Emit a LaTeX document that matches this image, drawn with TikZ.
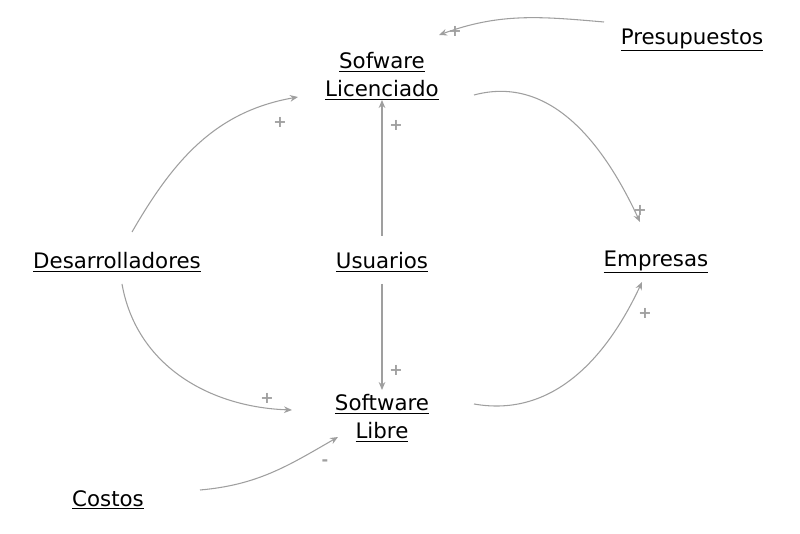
\documentclass[tikz,border=0pt]{standalone}
\usepackage{fontspec}
\setmainfont{DejaVu Sans}
\usetikzlibrary{arrows.meta}
\begin{document}
\begin{tikzpicture}[x=0.75pt,y=-0.75pt,
  lbl/.style={font=\fontsize{16}{21}\selectfont, align=center, inner sep=2pt},
  lnk/.style={draw=gray!75, line width=0.8pt, -{Stealth[length=6pt,width=5pt]}},
  sgn/.style={text=gray!75, font=\bfseries\fontsize{12}{12}\selectfont, inner sep=0pt}]
\useasboundingbox (0,0) rectangle (800,534);
\node[lbl] (lic) at (382,76) {\underline{Sofware}\\\underline{Licenciado}};
\node[lbl] (pre) at (692,40) {\underline{Presupuestos}};
\node[lbl] (des) at (117,262) {\underline{Desarrolladores}};
\node[lbl] (usu) at (382,262) {\underline{Usuarios}};
\node[lbl] (emp) at (656,262) {\underline{Empresas}};
\node[lbl] (lib) at (382,418) {\underline{Software}\\\underline{Libre}};
\node[lbl] (cos) at (108,500) {\underline{Costos}};
\coordinate (a1) at (604,22); \coordinate (b1) at (439,35);
\draw[lnk] (a1) to[out=175,in=20] (b1);
\coordinate (a2) at (132,232); \coordinate (b2) at (298,97);
\draw[lnk] (a2) to[out=60,in=190] (b2);
\coordinate (a3) at (382,236); \coordinate (b3) at (382,100);
\draw[lnk] (a3) -- (b3);
\coordinate (a4) at (474,95); \coordinate (b4) at (640,222);
\draw[lnk] (a4) to[out=15,in=115] (b4);
\coordinate (a5) at (122,284); \coordinate (b5) at (292,410);
\draw[lnk] (a5) to[out=-80,in=178] (b5);
\coordinate (a6) at (382,284); \coordinate (b6) at (382,390);
\draw[lnk] (a6) -- (b6);
\coordinate (a7) at (474,404); \coordinate (b7) at (642,282);
\draw[lnk] (a7) to[out=-10,in=-115] (b7);
\coordinate (a8) at (200,490); \coordinate (b8) at (338,437);
\draw[lnk] (a8) to[out=5,in=-150] (b8);
\node[sgn] (s1) at (455,31) {+};
\node[sgn] (s2) at (280,122) {+};
\node[sgn] (s3) at (396,125) {+};
\node[sgn] (s4) at (640,210) {+};
\node[sgn] (s5) at (267,398) {+};
\node[sgn] (s6) at (396,370) {+};
\node[sgn] (s7) at (645,313) {+};
\node[sgn] (s8) at (325,463) {-};
\end{tikzpicture}
\end{document}
